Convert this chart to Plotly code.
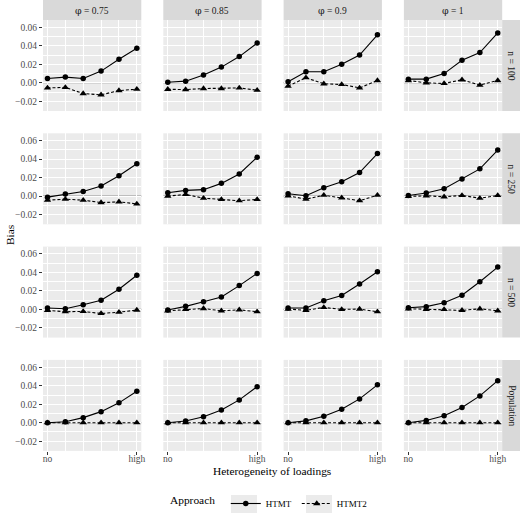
import plotly.graph_objects as go
from plotly.subplots import make_subplots

# heterogeneity levels (0 = no ... 5 = high)
levels = [0, 1, 2, 3, 4, 5]
level_ticks = [0, 5]
level_labels = ["no", "high"]

phi_values = ["0.75", "0.85", "0.9", "1"]
n_labels = ["n = 100", "n = 250", "n = 500", "Population"]

# bias values, rows = sample size, cols = phi
htmt = [
    [[0.0047, 0.0062, 0.0047, 0.0127, 0.0255, 0.0375],
     [0.0007, 0.0018, 0.0084, 0.0170, 0.0284, 0.0430],
     [0.0011, 0.0120, 0.0120, 0.0200, 0.0300, 0.0520],
     [0.0040, 0.0040, 0.0100, 0.0244, 0.0327, 0.0540]],
    [[-0.0011, 0.0022, 0.0050, 0.0110, 0.0220, 0.0350],
     [0.0036, 0.0062, 0.0070, 0.0138, 0.0240, 0.0420],
     [0.0025, 0.0004, 0.0090, 0.0156, 0.0255, 0.0460],
     [0.0007, 0.0033, 0.0080, 0.0185, 0.0295, 0.0498]],
    [[0.0015, 0.0007, 0.0050, 0.0100, 0.0218, 0.0370],
     [-0.0007, 0.0033, 0.0084, 0.0135, 0.0258, 0.0390],
     [0.0015, 0.0015, 0.0095, 0.0150, 0.0276, 0.0407],
     [0.0018, 0.0030, 0.0073, 0.0153, 0.0300, 0.0458]],
    [[0.0000, 0.0010, 0.0055, 0.0120, 0.0215, 0.0340],
     [0.0000, 0.0018, 0.0065, 0.0138, 0.0247, 0.0390],
     [0.0000, 0.0020, 0.0069, 0.0145, 0.0258, 0.0410],
     [0.0000, 0.0025, 0.0076, 0.0164, 0.0290, 0.0455]],
]
htmt2 = [
    [[-0.0055, -0.0050, -0.0116, -0.0130, -0.0084, -0.0069],
     [-0.0070, -0.0073, -0.0062, -0.0062, -0.0055, -0.0080],
     [-0.0036, 0.0055, -0.0010, -0.0018, -0.0055, 0.0025],
     [0.0025, 0.0000, -0.0007, 0.0033, -0.0025, 0.0025]],
    [[-0.0044, -0.0033, -0.0044, -0.0070, -0.0062, -0.0084],
     [0.0000, 0.0018, -0.0022, -0.0036, -0.0050, -0.0036],
     [0.0004, -0.0033, 0.0010, -0.0018, -0.0050, 0.0010],
     [-0.0004, 0.0004, -0.0007, 0.0007, -0.0022, 0.0007]],
    [[-0.0010, -0.0025, -0.0022, -0.0044, -0.0030, -0.0007],
     [-0.0015, 0.0000, 0.0010, -0.0015, -0.0004, -0.0025],
     [0.0004, -0.0010, 0.0022, 0.0000, 0.0004, -0.0025],
     [0.0007, 0.0000, 0.0000, -0.0010, 0.0007, -0.0015]],
    [[0.0, 0.0, 0.0, 0.0, 0.0, 0.0],
     [0.0, 0.0, 0.0, 0.0, 0.0, 0.0],
     [0.0, 0.0, 0.0, 0.0, 0.0, 0.0],
     [0.0, 0.0, 0.0, 0.0, 0.0, 0.0]],
]

FONT = "Liberation Serif, DejaVu Serif, serif"
PANEL_BG = "#EBEBEB"
STRIP_BG = "#D9D9D9"
W, H = 520, 518

# panel geometry in pixels
PANEL_W, PANEL_H = 98.3, 91
COL_LEFT = [43 + 120.3 * c for c in range(4)]
ROW_TOP = [20 + 113.3 * r for r in range(4)]

fig = make_subplots(rows=4, cols=4)

for r in range(4):
    for c in range(4):
        first = r == 0 and c == 0
        fig.add_trace(
            go.Scatter(
                x=levels, y=htmt[r][c], mode="lines+markers", name="HTMT",
                line=dict(color="black", width=1.1),
                marker=dict(symbol="circle", size=5.5, color="black"),
                showlegend=first, legendgroup="htmt",
            ),
            row=r + 1, col=c + 1,
        )
        fig.add_trace(
            go.Scatter(
                x=levels, y=htmt2[r][c], mode="lines+markers", name="HTMT2",
                line=dict(color="black", width=1.1, dash="3px,2px"),
                marker=dict(symbol="triangle-up", size=6.5, color="black"),
                showlegend=first, legendgroup="htmt2",
            ),
            row=r + 1, col=c + 1,
        )
        idx = r * 4 + c + 1
        sfx = "" if idx == 1 else str(idx)
        x0 = COL_LEFT[c]
        y0 = ROW_TOP[r]
        fig.layout[f"xaxis{sfx}"].domain = [x0 / W, (x0 + PANEL_W) / W]
        fig.layout[f"yaxis{sfx}"].domain = [(H - y0 - PANEL_H) / H, (H - y0) / H]

fig.add_hline(y=0, line_color="#8F8F8F", line_width=1.1, layer="below", row="all", col="all")

fig.update_xaxes(
    range=[-0.25, 5.25], tickvals=level_ticks, ticktext=level_labels,
    showgrid=True, gridcolor="white", gridwidth=1.1, zeroline=False,
    ticks="", ticklen=3, tickcolor="#333333", showline=False,
    minor=dict(tickvals=[1, 2, 3, 4], showgrid=True, gridcolor="white", gridwidth=1.1, ticks=""),
    tickfont=dict(family=FONT, size=9.5, color="#4D4D4D"),
    showticklabels=False, automargin=False, ticklabelstandoff=-4,
)
fig.update_xaxes(showticklabels=True, ticks="outside", row=4)
fig.update_yaxes(
    range=[-0.0305, 0.068], tickvals=[-0.02, 0.0, 0.02, 0.04, 0.06],
    ticktext=["−0.02", "0.00", "0.02", "0.04", "0.06"],
    showgrid=True, gridcolor="white", gridwidth=1.1, zeroline=False,
    ticks="", ticklen=3, tickcolor="#333333", showline=False,
    minor=dict(tickvals=[-0.03, -0.01, 0.01, 0.03, 0.05], showgrid=True,
               gridcolor="white", gridwidth=0.5, ticks=""),
    tickfont=dict(family=FONT, size=9.5, color="#4D4D4D"),
    showticklabels=False, automargin=False,
)
fig.update_yaxes(showticklabels=True, ticks="outside", col=1)

# facet strips
for c in range(4):
    ax = "" if c == 0 else str(c + 1)
    fig.add_shape(type="rect", xref=f"x{ax} domain", yref=f"y{ax} domain",
                  x0=0, x1=1, y0=1, y1=1 + 20 / PANEL_H, fillcolor=STRIP_BG, line_width=0)
    label = f"<span style='font-family:DejaVu Serif'>φ</span> = {phi_values[c]}"
    fig.add_annotation(text=label, xref=f"x{ax} domain", yref=f"y{ax} domain",
                       x=0.5, y=1 + 10 / PANEL_H, xanchor="center", yanchor="middle",
                       showarrow=False, font=dict(family=FONT, size=9.5, color="#1A1A1A"))
for r in range(4):
    idx = r * 4 + 4
    fig.add_shape(type="rect", xref=f"x{idx} domain", yref=f"y{idx} domain",
                  x0=1, x1=1 + 18 / PANEL_W, y0=0, y1=1, fillcolor=STRIP_BG, line_width=0)
    fig.add_annotation(text=n_labels[r], xref=f"x{idx} domain", yref=f"y{idx} domain",
                       x=1 + 9 / PANEL_W, y=0.5, xanchor="center", yanchor="middle",
                       showarrow=False, textangle=90,
                       font=dict(family=FONT, size=9.5, color="#1A1A1A"))

# grey backgrounds behind the legend keys (placed relative to the bottom-left panel)
bottom = ROW_TOP[3] + PANEL_H
for kx in (231, 306):
    fig.add_shape(type="rect", xref="x13 domain", yref="y13 domain",
                  x0=(kx - COL_LEFT[0]) / PANEL_W, x1=(kx + 26 - COL_LEFT[0]) / PANEL_W,
                  y0=(bottom - 513) / PANEL_H, y1=(bottom - 495) / PANEL_H,
                  fillcolor="#EBEBEB", line_width=0, layer="above")

fig.update_layout(
    width=W, height=H,
    margin=dict(l=0, r=0, t=0, b=0, autoexpand=False),
    plot_bgcolor=PANEL_BG, paper_bgcolor="white",
    font=dict(family=FONT, color="black"),
    showlegend=True,
    legend=dict(
        orientation="h", x=270 / W, xanchor="center", y=(H - 503.5) / H, yanchor="middle",
        title=dict(text="Approach ", side="left", font=dict(family=FONT, size=11.4)),
        font=dict(family=FONT, size=9), bgcolor="rgba(255,255,255,0)",
        itemwidth=30, tracegroupgap=0,
    ),
)
fig.add_annotation(text="Bias", xref="paper", yref="paper", x=10 / W, y=(H - 235) / H,
                   xanchor="center", yanchor="middle",
                   showarrow=False, textangle=-90, font=dict(family=FONT, size=11.4))
fig.add_annotation(text="Heterogeneity of loadings", xref="paper", yref="paper",
                   x=(43 + 459 / 2) / W, y=(H - 471) / H, xanchor="center", yanchor="middle",
                   showarrow=False, font=dict(family=FONT, size=11.4))

# drop the default page margin so the figure sits at the window's top-left corner
fig.write_html("out.html", config={"displayModeBar": False},
               post_script="document.body.style.margin = '0px';")
